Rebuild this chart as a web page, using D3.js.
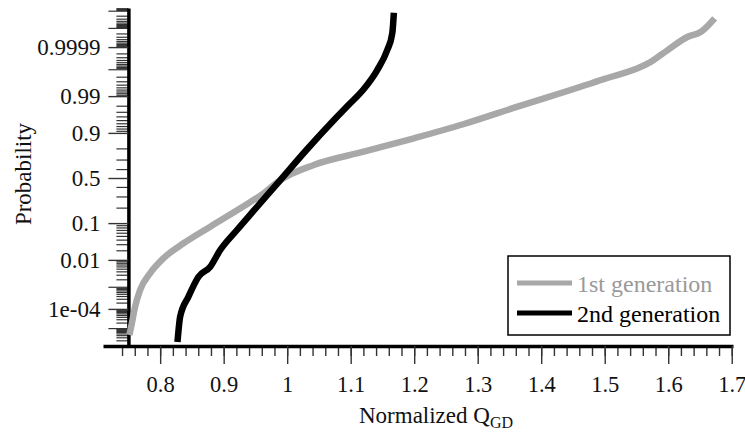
<!DOCTYPE html>
<html>
<head>
<script src="https://d3js.org/d3.v7.min.js"></script>
<style>
  body { margin: 0; background: #fff; }
  svg text { font-family: "Liberation Serif", "Times New Roman", serif; }
</style>
</head>
<body>
<script>
// values: normalized Q_GD and cumulative probability
const gen1Q = [0.7516, 0.7554, 0.7606, 0.7685, 0.7842, 0.8052, 0.8368, 0.8789, 0.9262, 0.9629, 0.9893,
               1.0418, 1.1207, 1.1995, 1.2784, 1.3626, 1.494, 1.5729, 1.5992, 1.6307, 1.6517, 1.6731];
const gen1P = [4.1e-6, 1.83e-5, 1.29e-4, 7.4e-4, 0.0034, 0.0113, 0.0318, 0.0833, 0.1946, 0.332, 0.477,
               0.644, 0.7725, 0.8703, 0.9375, 0.9786, 0.99732, 0.99952, 0.999861, 0.999970, 0.9999838, 0.99999715];
const gen2Q = [0.8273, 0.8315, 0.8446, 0.8604, 0.8789, 0.8946, 0.9210, 0.9483, 0.9893, 1.0303,
               1.0737, 1.0965, 1.1207, 1.1418, 1.1576, 1.1655, 1.168];
const gen2P = [1.59e-6, 4.09e-5, 3.76e-4, 0.00252, 0.00587, 0.0204, 0.0698, 0.1817, 0.477, 0.7867,
               0.9503, 0.98096, 0.99427, 0.99892, 0.999861, 0.9999803, 0.99999867];
const seriesNames = ["1st generation", "2nd generation"];
const xTickValues = [0.8, 0.9, 1, 1.1, 1.2, 1.3, 1.4, 1.5, 1.6, 1.7];
const xTickLabels = ["0.8", "0.9", "1", "1.1", "1.2", "1.3", "1.4", "1.5", "1.6", "1.7"];
const yTickValues = [1e-4, 0.01, 0.1, 0.5, 0.9, 0.99, 0.9999];
const yTickLabels = ["1e-04", "0.01", "0.1", "0.5", "0.9", "0.99", "0.9999"];

const FONT = "'Liberation Serif', 'Times New Roman', serif";

// inverse normal cdf (Acklam) for the probability axis
function probit(p) {
  const a = [-3.969683028665376e+01, 2.209460984245205e+02, -2.759285104469687e+02, 1.383577518672690e+02, -3.066479806614716e+01, 2.506628277459239e+00];
  const b = [-5.447609879822406e+01, 1.615858368580409e+02, -1.556989798598866e+02, 6.680131188771972e+01, -1.328068155288572e+01];
  const c = [-7.784894002430293e-03, -3.223964580411365e-01, -2.400758277161838e+00, -2.549732539343734e+00, 4.374664141464968e+00, 2.938163982698783e+00];
  const d = [7.784695709041462e-03, 3.224671290700398e-01, 2.445134137142996e+00, 3.754408661907416e+00];
  const tail = q => (((((c[0]*q+c[1])*q+c[2])*q+c[3])*q+c[4])*q+c[5]) / ((((d[0]*q+d[1])*q+d[2])*q+d[3])*q+1);
  if (p < 0.02425) return tail(Math.sqrt(-2 * Math.log(p)));
  if (p > 1 - 0.02425) return -tail(Math.sqrt(-2 * Math.log(1 - p)));
  const q = p - 0.5, r = q * q;
  return (((((a[0]*r+a[1])*r+a[2])*r+a[3])*r+a[4])*r+a[5])*q / (((((b[0]*r+b[1])*r+b[2])*r+b[3])*r+b[4])*r+1);
}

const W = 745, H = 434;
const svg = d3.select("body").append("svg").attr("width", W).attr("height", H)
  .attr("font-family", FONT);

const x = d3.scaleLinear().domain([0.71, 1.702]).range([103, 733]);
const z = d3.scaleLinear().domain([-4.773, 4.83]).range([346, 8]);
const y = p => z(probit(p));
const yAxisX = x(0.75);

// minor probability ticks
let minorP = [];
for (let k = 1; k <= 9; k++) if (k !== 1 && k !== 5 && k !== 9) minorP.push(k / 10);
let decadeP = [];
for (let n = 2; n <= 7; n++) {
  for (let k = 1; k <= 9; k++) {
    const lo = k * Math.pow(10, -n), hi = 1 - lo;
    (k === 1 ? decadeP : minorP).push(lo, hi);
  }
}
const inDomain = p => { const v = probit(p); return v >= -4.773 && v <= 4.83; };
minorP = minorP.filter(inDomain);
decadeP = decadeP.filter(inDomain).filter(p => !yTickValues.some(t => Math.abs(t - p) < 1e-12));

// y axis
svg.append("g").attr("transform", `translate(${yAxisX},0)`)
  .call(d3.axisLeft(z).tickValues(minorP.map(probit)).tickSize(12).tickSizeOuter(0).tickFormat(""))
  .call(g => g.select(".domain").remove())
  .selectAll("line").attr("stroke", "#333").attr("stroke-width", 1.2);
svg.append("g").attr("transform", `translate(${yAxisX},0)`)
  .call(d3.axisLeft(z).tickValues(decadeP.map(probit)).tickSize(20).tickSizeOuter(0).tickFormat(""))
  .call(g => g.select(".domain").remove())
  .selectAll("line").attr("stroke", "#333").attr("stroke-width", 1.2);
const yAxis = svg.append("g").attr("transform", `translate(${yAxisX},0)`)
  .call(d3.axisLeft(z).tickValues(yTickValues.map(probit)).tickSize(20).tickSizeOuter(0).tickPadding(8)
    .tickFormat((d, i) => yTickLabels[i]));
yAxis.attr("font-family", FONT).attr("font-size", 23);
yAxis.select(".domain").attr("stroke", "#000").attr("stroke-width", 3.5);
yAxis.selectAll("line").attr("stroke", "#333").attr("stroke-width", 1.4);
yAxis.selectAll("text").attr("fill", "#111");

// x axis
const xMinor = d3.range(0, 49).map(i => +(0.74 + 0.02 * i).toFixed(2));
svg.append("g").attr("transform", "translate(0,346)")
  .call(d3.axisBottom(x).tickValues(xMinor).tickSize(10).tickSizeOuter(0).tickFormat(""))
  .call(g => g.select(".domain").remove())
  .selectAll("line").attr("stroke", "#333").attr("stroke-width", 1.4);
const xAxis = svg.append("g").attr("transform", "translate(0,346)")
  .call(d3.axisBottom(x).tickValues(xTickValues).tickSize(18).tickSizeOuter(0).tickPadding(12)
    .tickFormat((d, i) => xTickLabels[i]));
xAxis.attr("font-family", FONT).attr("font-size", 22.5);
xAxis.select(".domain").attr("stroke", "#000").attr("stroke-width", 3.5);
xAxis.selectAll("line").attr("stroke", "#333").attr("stroke-width", 1.4);
xAxis.selectAll("text").attr("fill", "#111");

// axis titles
const xt = svg.append("text").attr("x", 436).attr("y", 423).attr("text-anchor", "middle")
  .attr("font-size", 23).attr("fill", "#111");
xt.append("tspan").text("Normalized Q");
xt.append("tspan").attr("font-size", 16).attr("dy", 5).text("GD");

svg.append("text").attr("transform", "translate(31,174) rotate(-90)").attr("text-anchor", "middle")
  .attr("font-size", 23).attr("fill", "#111").text("Probability");

// curves
const line = d3.line().x(d => x(d[0])).y(d => y(d[1])).curve(d3.curveMonotoneX);
const series = [
  { name: seriesNames[0], q: gen1Q, p: gen1P, color: "#a8a8a8", text: "#999" },
  { name: seriesNames[1], q: gen2Q, p: gen2P, color: "#000", text: "#000" }
];
series.forEach(s => {
  svg.append("path").datum(s.q.map((v, i) => [v, s.p[i]]))
    .attr("d", line).attr("fill", "none").attr("stroke", s.color).attr("stroke-width", 6.5);
});

// legend
const lg = svg.append("g");
lg.append("rect").attr("x", 508).attr("y", 256).attr("width", 222).attr("height", 79)
  .attr("fill", "#fff").attr("stroke", "#000").attr("stroke-width", 1.5);
series.forEach((s, i) => {
  const ly = 283 + i * 30;
  lg.append("line").attr("x1", 517).attr("x2", 572).attr("y1", ly).attr("y2", ly)
    .attr("stroke", s.color).attr("stroke-width", 5);
  lg.append("text").attr("x", 577).attr("y", ly + 8.5).attr("font-size", 24).attr("fill", s.text).text(s.name);
});
</script>
</body>
</html>
